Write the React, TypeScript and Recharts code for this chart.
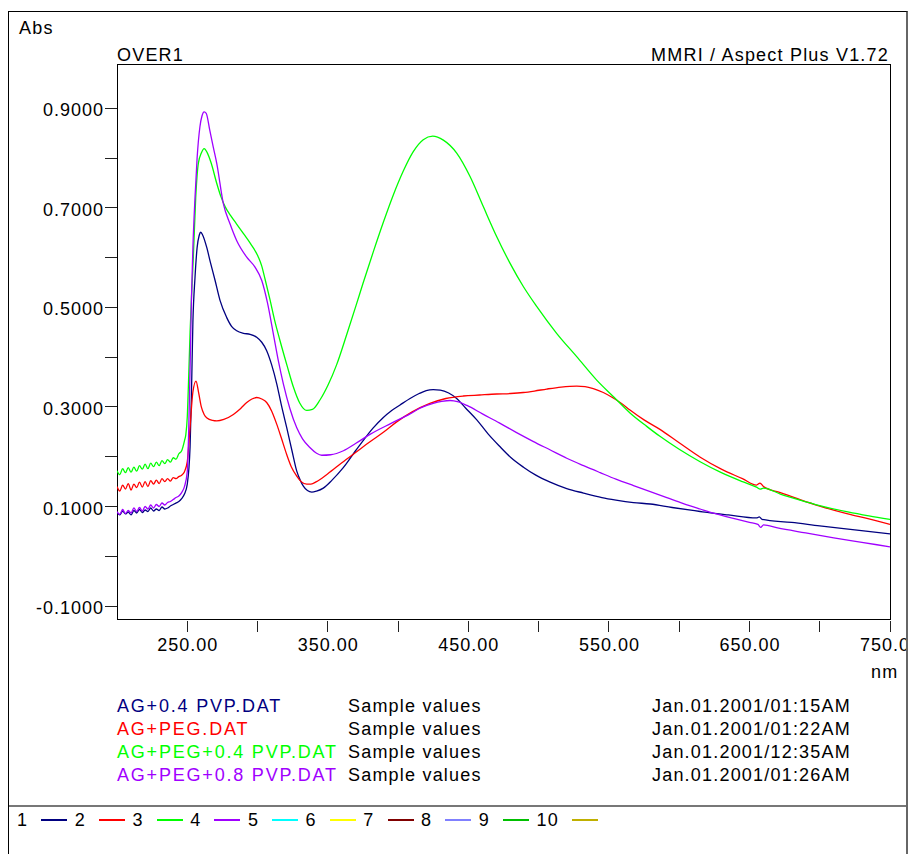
import { LineChart, Line, XAxis, YAxis, ReferenceArea } from "recharts";

const FONT = "'Liberation Sans', Arial, sans-serif";
const TEXT_STYLE = { fontFamily: FONT, fontSize: 18, letterSpacing: 1.2 };
const NAME_STYLE = { fontFamily: FONT, fontSize: 18, letterSpacing: 1.8 };
const TICK_STYLE = { fontFamily: FONT, fontSize: 18, letterSpacing: 1.0 };

// axis setup (nm / Abs)
const NM_DOMAIN: [number, number] = [200, 750];
const ABS_DOMAIN: [number, number] = [-0.126, 0.989];
const NM_TICKS = [250, 300, 350, 400, 450, 500, 550, 600, 650, 700, 750];
const NM_LABELS = [250, 350, 450, 550, 650, 750];
const ABS_TICKS = [-0.1, 0, 0.1, 0.2, 0.3, 0.4, 0.5, 0.6, 0.7, 0.8, 0.9];
const ABS_LABELS = [-0.1, 0.1, 0.3, 0.5, 0.7, 0.9];

// spectra, [nm, Abs]
const AG_PVP04: [number, number][] = [
  [200, 0.088], [202, 0.083], [204, 0.091], [206, 0.085], [208, 0.089], [210, 0.083],
  [212, 0.092], [214, 0.087], [216, 0.094], [218, 0.088], [220, 0.093], [222, 0.09],
  [224, 0.097], [226, 0.091], [228, 0.095], [230, 0.092], [232, 0.099], [234, 0.095],
  [236, 0.097], [238, 0.101], [240, 0.104], [242, 0.107], [244, 0.11], [246, 0.116],
  [248, 0.125], [250, 0.145], [252, 0.22], [253, 0.33], [254, 0.47], [255.5, 0.56],
  [257, 0.62], [258.5, 0.645], [259.6, 0.651], [261, 0.645], [263.8, 0.621], [266.5, 0.59],
  [269.8, 0.554], [273.3, 0.514], [278, 0.48], [281.5, 0.462], [285.2, 0.453], [290, 0.448],
  [294.7, 0.446], [299.4, 0.44], [303, 0.43], [306.5, 0.413], [310, 0.385], [313.7, 0.346],
  [317, 0.303], [320.8, 0.258], [324.5, 0.212], [327.9, 0.171], [330.5, 0.152], [332.6, 0.141],
  [335.5, 0.132], [338.6, 0.129], [342, 0.131], [346.8, 0.137], [353, 0.153], [361, 0.178],
  [370, 0.213], [375, 0.232], [382, 0.257], [389.5, 0.279], [395, 0.292], [401.4, 0.304],
  [408.5, 0.317], [415, 0.327], [420, 0.333], [425, 0.335], [430, 0.334], [436, 0.328],
  [441.7, 0.317], [448, 0.298], [456, 0.274], [464, 0.246], [472.6, 0.22], [480, 0.199],
  [489.2, 0.179], [498, 0.163], [508.2, 0.149], [520, 0.136], [531.9, 0.127], [545, 0.118],
  [555, 0.113], [567.5, 0.108], [579.4, 0.105], [595, 0.098], [614.9, 0.09], [620, 0.088],
  [635, 0.083], [655, 0.077], [657, 0.079], [659, 0.074], [680, 0.068], [700, 0.061],
  [725, 0.053], [750, 0.045],
];

const AG_PEG: [number, number][] = [
  [200, 0.14], [202, 0.131], [204, 0.143], [206, 0.135], [208, 0.146], [210, 0.133],
  [212, 0.145], [214, 0.138], [216, 0.149], [218, 0.139], [220, 0.15], [222, 0.14],
  [224, 0.152], [226, 0.145], [228, 0.153], [230, 0.146], [232, 0.156], [234, 0.15],
  [236, 0.156], [238, 0.151], [240, 0.158], [242, 0.156], [244, 0.16], [246, 0.163],
  [248, 0.17], [250, 0.19], [252, 0.26], [254, 0.33], [256.2, 0.352], [258, 0.33],
  [260, 0.3], [262, 0.285], [264, 0.278], [268, 0.273], [271, 0.272], [276, 0.275],
  [282.8, 0.285], [288, 0.297], [292.3, 0.309], [296, 0.316], [299.4, 0.319], [303, 0.316],
  [306.5, 0.309], [310, 0.292], [313.7, 0.265], [317, 0.237], [320.8, 0.204], [324, 0.18],
  [327.9, 0.161], [331, 0.15], [335, 0.145], [338, 0.145], [342, 0.15], [350, 0.166],
  [360, 0.188], [370, 0.209], [380, 0.23], [390, 0.25], [399, 0.27], [410, 0.29],
  [422.6, 0.307], [434, 0.317], [446.4, 0.322], [458, 0.324], [470.2, 0.326], [480, 0.327],
  [489.1, 0.329], [497, 0.332], [505.7, 0.336], [516, 0.34], [527.1, 0.342], [533, 0.341],
  [538.9, 0.337], [546, 0.329], [553.1, 0.318], [559, 0.307], [565, 0.294], [575, 0.274],
  [586.3, 0.255], [600, 0.228], [615, 0.199], [630, 0.175], [645, 0.156], [655, 0.143],
  [657.5, 0.147], [660, 0.14], [672, 0.128], [686, 0.114], [700, 0.101], [720, 0.085],
  [735, 0.075], [750, 0.064],
];

const AG_PEG_PVP04: [number, number][] = [
  [200, 0.172], [202, 0.164], [204, 0.176], [206, 0.168], [208, 0.178], [210, 0.169],
  [212, 0.179], [214, 0.171], [216, 0.182], [218, 0.175], [220, 0.185], [222, 0.176],
  [224, 0.187], [226, 0.18], [228, 0.189], [230, 0.182], [232, 0.192], [234, 0.186],
  [236, 0.194], [238, 0.189], [240, 0.198], [242, 0.195], [244, 0.206], [246, 0.212],
  [248, 0.232], [249, 0.245], [250, 0.28], [251, 0.36], [252, 0.45], [253, 0.52],
  [254.3, 0.6], [256, 0.72], [257.9, 0.79], [260, 0.81], [262, 0.819], [264, 0.812],
  [267, 0.79], [271, 0.749], [274, 0.722], [277, 0.702], [281, 0.684], [285, 0.668],
  [290, 0.648], [295, 0.628], [300.6, 0.601], [303, 0.583], [305.4, 0.556], [308.9, 0.515],
  [312, 0.476], [316, 0.433], [321, 0.383], [325.5, 0.34], [330, 0.308], [335, 0.293],
  [339, 0.295], [344.4, 0.314], [350, 0.343], [356.3, 0.385], [363.4, 0.445], [370, 0.503],
  [375, 0.548], [382.4, 0.612], [389.5, 0.671], [396.6, 0.726], [403.7, 0.774], [410.8, 0.813],
  [417.9, 0.837], [424.6, 0.844], [432.2, 0.836], [441.7, 0.81], [451.2, 0.763], [460.7, 0.702],
  [470.2, 0.642], [479.6, 0.589], [489.1, 0.542], [498.6, 0.502], [512.8, 0.448], [527.1, 0.401],
  [541.3, 0.354], [553.1, 0.321], [565, 0.288], [576.9, 0.261], [586.3, 0.241], [600, 0.215],
  [614.9, 0.19], [630, 0.168], [645, 0.15], [655, 0.139], [657.7, 0.135], [660, 0.137],
  [672, 0.125], [686, 0.113], [700, 0.102], [720, 0.089], [735, 0.081], [750, 0.074],
];

const AG_PEG_PVP08: [number, number][] = [
  [200, 0.09], [202, 0.084], [204, 0.094], [206, 0.086], [208, 0.092], [210, 0.087],
  [212, 0.097], [214, 0.09], [216, 0.098], [218, 0.091], [220, 0.1], [222, 0.095],
  [224, 0.103], [226, 0.097], [228, 0.104], [230, 0.1], [232, 0.107], [234, 0.103],
  [236, 0.108], [238, 0.11], [240, 0.114], [242, 0.118], [244, 0.121], [246, 0.128],
  [248, 0.14], [250, 0.17], [251, 0.25], [252, 0.38], [253, 0.52], [254, 0.62],
  [255.5, 0.72], [257, 0.8], [259, 0.863], [260.5, 0.885], [262, 0.893], [263.5, 0.89],
  [266, 0.856], [268.5, 0.822], [271, 0.789], [275.7, 0.708], [280.4, 0.668], [285.2, 0.634],
  [292.3, 0.601], [298.2, 0.581], [303, 0.554], [307, 0.51], [311.3, 0.446], [315, 0.39],
  [318.4, 0.346], [323, 0.297], [327.9, 0.258], [332, 0.236], [337.4, 0.218], [342, 0.207],
  [345.7, 0.203], [352, 0.204], [361.1, 0.212], [370, 0.227], [380, 0.245], [395, 0.267],
  [408.5, 0.286], [416, 0.298], [425, 0.307], [431, 0.311], [437, 0.313], [443, 0.31],
  [449, 0.303], [460, 0.286], [472, 0.268], [484, 0.249], [496, 0.231], [508, 0.214],
  [520, 0.197], [532, 0.182], [543.8, 0.168], [555, 0.155], [567.5, 0.142], [579.4, 0.13],
  [591.2, 0.118], [603, 0.106], [614.9, 0.095], [625, 0.086], [640, 0.075], [650, 0.068],
  [656, 0.064], [658, 0.058], [660, 0.063], [670, 0.057], [690, 0.047], [710, 0.037],
  [730, 0.028], [750, 0.019],
];

const SERIES_DATA = [AG_PVP04, AG_PEG, AG_PEG_PVP04, AG_PEG_PVP08];
const SERIES_NAMES = ["AG+0.4 PVP.DAT", "AG+PEG.DAT", "AG+PEG+0.4 PVP.DAT", "AG+PEG+0.8 PVP.DAT"];
const SERIES_NOTES = ["Sample values", "Sample values", "Sample values", "Sample values"];
const SERIES_TIMES = [
  "Jan.01.2001/01:15AM",
  "Jan.01.2001/01:22AM",
  "Jan.01.2001/12:35AM",
  "Jan.01.2001/01:26AM",
];
// slot colours of the instrument legend (1..10)
const SLOT_COLORS = [
  "#000080", "#ff0000", "#00ff00", "#a000ff", "#00ffff",
  "#ffff00", "#800000", "#8080ff", "#00c000", "#c0b000",
];

const toPoints = (rows: [number, number][]) => rows.map(([nm, abs]) => ({ nm, abs }));

const near = (list: number[], v: number) => list.some((t) => Math.abs(t - v) < 1e-6);

function NmTick({ x, y, payload }: any) {
  const v = payload.value as number;
  return (
    <g>
      <line x1={x} x2={x} y1={y + 2} y2={y + 13} stroke="#222" shapeRendering="crispEdges" />
      {near(NM_LABELS, v) && (
        <text x={x + 0.5} y={y + 32} textAnchor="middle" fill="#000" style={TICK_STYLE}>
          {v.toFixed(2)}
        </text>
      )}
    </g>
  );
}

function AbsTick({ x, y, payload }: any) {
  const v = payload.value as number;
  return (
    <g>
      <line x1={x - 12} x2={x} y1={y} y2={y} stroke="#222" shapeRendering="crispEdges" />
      {near(ABS_LABELS, v) && (
        <text x={x - 13} y={y + 8} textAnchor="end" fill="#000" style={TICK_STYLE}>
          {v.toFixed(4)}
        </text>
      )}
    </g>
  );
}

export default function App() {
  return (
    <div style={{ position: "relative", width: 914, height: 854, background: "#fff" }}>
      <style>{"body{margin:0;background:#fff}"}</style>
      <div
        style={{
          position: "absolute",
          left: 8,
          top: 11,
          width: 900,
          height: 850,
          boxSizing: "border-box",
          borderLeft: "1px solid #000",
          borderTop: "1px solid #000",
          borderRight: "2px solid #666",
          overflow: "hidden",
        }}
      >
        <div style={{ position: "absolute", left: -9, top: -12, width: 914, height: 854 }}>
          <LineChart
            width={914}
            height={700}
            margin={{ top: 64, right: 24, left: 57, bottom: 41 }}
            style={{ position: "absolute", left: 0, top: 0 }}
          >
            <XAxis
              type="number"
              dataKey="nm"
              domain={NM_DOMAIN}
              allowDataOverflow
              ticks={NM_TICKS}
              interval={0}
              height={40}
              axisLine={false}
              tickLine={false}
              tickSize={0}
              tickMargin={0}
              tick={<NmTick />}
            />
            <YAxis
              type="number"
              domain={ABS_DOMAIN}
              allowDataOverflow
              ticks={ABS_TICKS}
              interval={0}
              width={60}
              axisLine={false}
              tickLine={false}
              tickSize={0}
              tickMargin={0}
              tick={<AbsTick />}
            />
            <ReferenceArea
              x1={NM_DOMAIN[0]}
              x2={NM_DOMAIN[1]}
              y1={ABS_DOMAIN[0]}
              y2={ABS_DOMAIN[1]}
              fill="none"
              stroke="#000"
              strokeWidth={1}
              shapeRendering="crispEdges"
            />
            {SERIES_DATA.map((rows, i) => (
              <Line
                key={SERIES_NAMES[i]}
                data={toPoints(rows)}
                dataKey="abs"
                type="monotone"
                stroke={SLOT_COLORS[i]}
                strokeWidth={1.3}
                dot={false}
                isAnimationActive={false}
              />
            ))}
          </LineChart>

          <svg
            width={914}
            height={854}
            style={{ position: "absolute", left: 0, top: 0, pointerEvents: "none" }}
          >
            <text x={19} y={34} fill="#000" style={TEXT_STYLE}>Abs</text>
            <text x={117} y={61} fill="#000" style={TEXT_STYLE}>OVER1</text>
            <text x={889} y={61} textAnchor="end" fill="#000" style={TEXT_STYLE}>
              MMRI / Aspect Plus V1.72
            </text>
            <text x={871} y={678} fill="#000" style={TEXT_STYLE}>nm</text>
            {SERIES_NAMES.map((name, i) => {
              const y = 711.5 + i * 23.3;
              return (
                <g key={name}>
                  <text x={117} y={y} fill={SLOT_COLORS[i]} style={NAME_STYLE}>{name}</text>
                  <text x={348} y={y} fill="#000" style={TEXT_STYLE}>{SERIES_NOTES[i]}</text>
                  <text x={652} y={y} fill="#000" style={TEXT_STYLE}>{SERIES_TIMES[i]}</text>
                </g>
              );
            })}
          </svg>

          <div
            style={{ position: "absolute", left: 0, top: 805, width: 914, height: 2, background: "#777" }}
          />

          <div
            style={{
              position: "absolute",
              left: 17,
              top: 811,
              display: "flex",
              alignItems: "center",
              fontFamily: FONT,
              fontSize: 18,
              letterSpacing: 1.2,
              lineHeight: "18px",
              color: "#000",
            }}
          >
            {SLOT_COLORS.map((c, i) => (
              <div key={c + i} style={{ display: "flex", alignItems: "center" }}>
                <span>{i + 1}</span>
                <span
                  style={{ display: "inline-block", width: 26, height: 1.5, background: c, margin: "0 7.5px 0 13px" }}
                />
              </div>
            ))}
          </div>
        </div>
      </div>
    </div>
  );
}
